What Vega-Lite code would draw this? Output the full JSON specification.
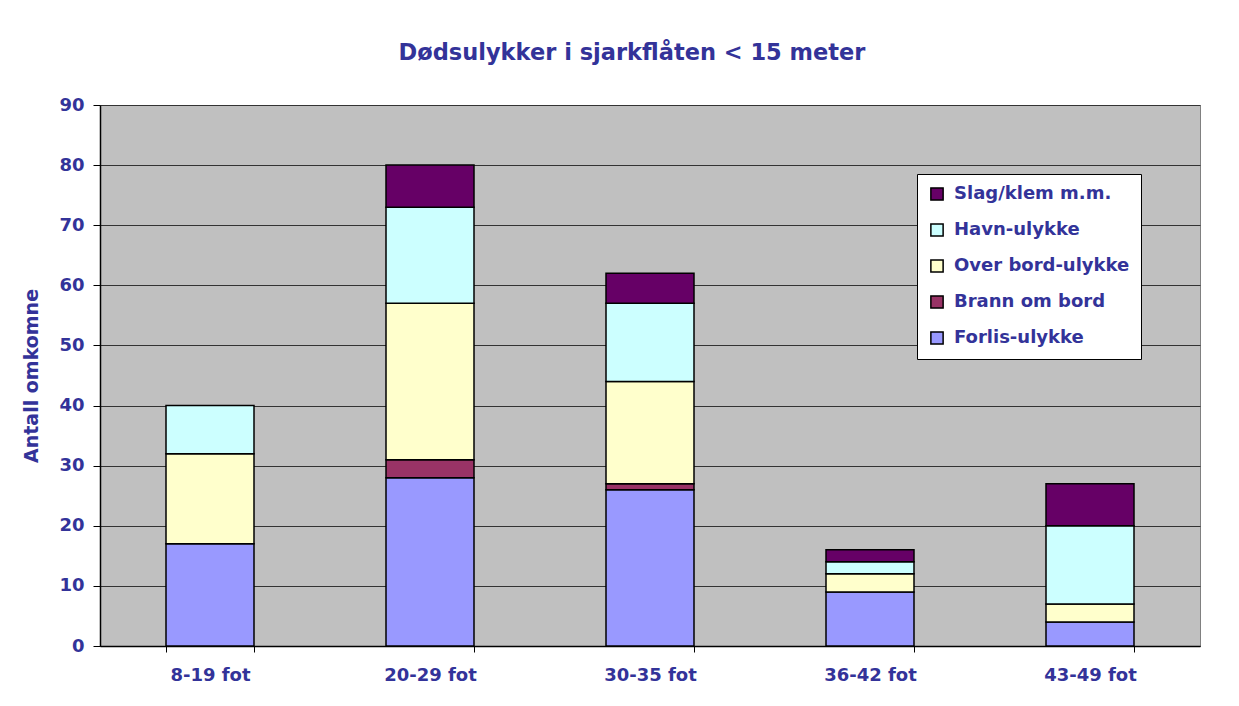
{
  "$schema": "https://vega.github.io/schema/vega-lite/v6.json",
  "width": 1100,
  "height": 541,
  "autosize": "none",
  "padding": {"left": 100, "top": 105, "right": 39, "bottom": 60},
  "background": "white",
  "title": {
    "text": "Dødsulykker i sjarkflåten < 15 meter",
    "font": "DejaVu Sans",
    "fontSize": 22.5,
    "fontWeight": "bold",
    "color": "#333399",
    "anchor": "middle",
    "offset": 32,
    "dx": -18
  },
  "data": {
    "values": [
      {"size": "8-19 fot", "type": "Forlis-ulykke", "k": 1, "n": 17},
      {"size": "8-19 fot", "type": "Over bord-ulykke", "k": 3, "n": 15},
      {"size": "8-19 fot", "type": "Havn-ulykke", "k": 4, "n": 8},
      {"size": "20-29 fot", "type": "Forlis-ulykke", "k": 1, "n": 28},
      {"size": "20-29 fot", "type": "Brann om bord", "k": 2, "n": 3},
      {"size": "20-29 fot", "type": "Over bord-ulykke", "k": 3, "n": 26},
      {"size": "20-29 fot", "type": "Havn-ulykke", "k": 4, "n": 16},
      {"size": "20-29 fot", "type": "Slag/klem m.m.", "k": 5, "n": 7},
      {"size": "30-35 fot", "type": "Forlis-ulykke", "k": 1, "n": 26},
      {"size": "30-35 fot", "type": "Brann om bord", "k": 2, "n": 1},
      {"size": "30-35 fot", "type": "Over bord-ulykke", "k": 3, "n": 17},
      {"size": "30-35 fot", "type": "Havn-ulykke", "k": 4, "n": 13},
      {"size": "30-35 fot", "type": "Slag/klem m.m.", "k": 5, "n": 5},
      {"size": "36-42 fot", "type": "Forlis-ulykke", "k": 1, "n": 9},
      {"size": "36-42 fot", "type": "Over bord-ulykke", "k": 3, "n": 3},
      {"size": "36-42 fot", "type": "Havn-ulykke", "k": 4, "n": 2},
      {"size": "36-42 fot", "type": "Slag/klem m.m.", "k": 5, "n": 2},
      {"size": "43-49 fot", "type": "Forlis-ulykke", "k": 1, "n": 4},
      {"size": "43-49 fot", "type": "Over bord-ulykke", "k": 3, "n": 3},
      {"size": "43-49 fot", "type": "Havn-ulykke", "k": 4, "n": 13},
      {"size": "43-49 fot", "type": "Slag/klem m.m.", "k": 5, "n": 7}
    ]
  },
  "mark": {"type": "bar", "stroke": "black", "strokeWidth": 1.5},
  "encoding": {
    "x": {
      "field": "size",
      "type": "nominal",
      "sort": ["8-19 fot", "20-29 fot", "30-35 fot", "36-42 fot", "43-49 fot"],
      "scale": {"paddingInner": 0.6, "paddingOuter": 0.3},
      "axis": {
        "title": null,
        "labelAngle": 0,
        "labelFont": "DejaVu Sans",
        "labelFontSize": 18,
        "labelFontWeight": "bold",
        "labelColor": "#333399",
        "labelPadding": 14,
        "tickBand": "extent",
        "tickColor": "black",
        "tickSize": 6,
        "domainColor": "black",
        "domainWidth": 1.5
      }
    },
    "y": {
      "field": "n",
      "type": "quantitative",
      "stack": "zero",
      "scale": {"domain": [0, 90], "nice": false},
      "axis": {
        "title": "Antall omkomne",
        "titleFont": "DejaVu Sans",
        "titleFontSize": 19,
        "titleFontWeight": "bold",
        "titleColor": "#333399",
        "titlePadding": 17,
        "values": [0, 10, 20, 30, 40, 50, 60, 70, 80, 90],
        "labelFont": "DejaVu Sans",
        "labelFontSize": 18,
        "labelFontWeight": "bold",
        "labelColor": "#333399",
        "labelPadding": 9,
        "tickColor": "black",
        "tickSize": 7,
        "domainColor": "black",
        "domainWidth": 1.5,
        "grid": true,
        "gridColor": "#333333",
        "gridWidth": 1.2
      }
    },
    "color": {
      "field": "type",
      "type": "nominal",
      "sort": ["Slag/klem m.m.", "Havn-ulykke", "Over bord-ulykke", "Brann om bord", "Forlis-ulykke"],
      "scale": {
        "domain": ["Slag/klem m.m.", "Havn-ulykke", "Over bord-ulykke", "Brann om bord", "Forlis-ulykke"],
        "range": ["#660066", "#CCFFFF", "#FFFFCC", "#993366", "#9999FF"]
      },
      "legend": {
        "title": null,
        "orient": "none",
        "legendX": 817,
        "legendY": 69,
        "fillColor": "white",
        "strokeColor": "black",
        "padding": 11,
        "symbolType": "square",
        "symbolSize": 150,
        "symbolStrokeColor": "black",
        "symbolStrokeWidth": 1.5,
        "symbolOpacity": 1,
        "labelFont": "DejaVu Sans",
        "labelFontSize": 18,
        "labelFontWeight": "bold",
        "labelColor": "#333399",
        "labelLimit": 400,
        "rowPadding": 16,
        "labelOffset": 8
      }
    },
    "order": {"field": "k", "type": "quantitative", "sort": "ascending"}
  },
  "config": {
    "view": {"fill": "#C0C0C0", "stroke": "#808080", "strokeWidth": 1}
  }
}
